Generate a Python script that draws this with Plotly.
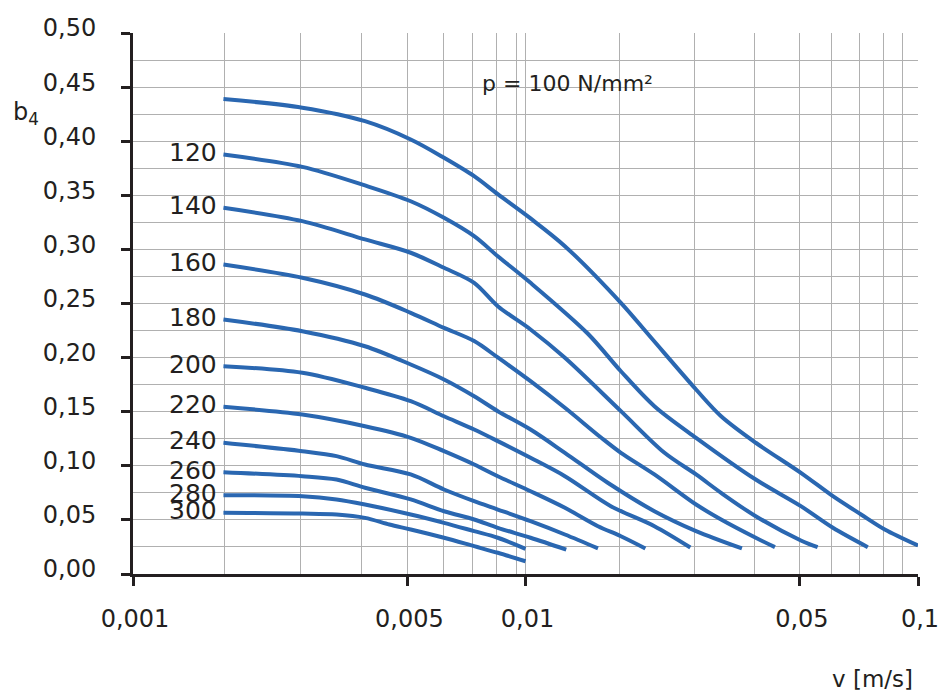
import math
import plotly.graph_objects as go

# ---------------- data ----------------
pressures = [100, 120, 140, 160, 180, 200, 220, 240, 260, 280, 300]

v_100 = [0.0017, 0.0027, 0.0039, 0.0051, 0.0062, 0.0074, 0.0085, 0.0103, 0.0126, 0.0175, 0.0209,
         0.0272, 0.0315, 0.0386, 0.0503, 0.0607, 0.0716, 0.0823, 0.1]
b_100 = [0.439, 0.431, 0.4185, 0.4016, 0.3847, 0.3677, 0.3510, 0.3286, 0.303, 0.2506, 0.2183,
         0.1705, 0.1458, 0.1213, 0.0935, 0.0719, 0.055, 0.0411, 0.0263]

v_120 = [0.0017, 0.0027, 0.0039, 0.0051, 0.0062, 0.0074, 0.0085, 0.0103, 0.0144, 0.0175, 0.0213,
         0.0272, 0.0386, 0.0503, 0.0607, 0.0745]
b_120 = [0.3877, 0.3763, 0.3591, 0.3445, 0.3292, 0.3122, 0.2937, 0.2691, 0.2223, 0.1874, 0.1551,
         0.1259, 0.0873, 0.0627, 0.0427, 0.0248]

v_140 = [0.0017, 0.0027, 0.0039, 0.0051, 0.0062, 0.0074, 0.0085, 0.0103, 0.0126, 0.0175, 0.0226,
         0.0272, 0.0315, 0.0386, 0.0503, 0.0555]
b_140 = [0.3384, 0.3261, 0.3092, 0.2969, 0.2830, 0.2691, 0.2475, 0.2260, 0.1998, 0.1505, 0.1120,
         0.0920, 0.0750, 0.0534, 0.0310, 0.0248]

v_160 = [0.0017, 0.0027, 0.0039, 0.0051, 0.0062, 0.0074, 0.0085, 0.0103, 0.0126, 0.0156, 0.0175,
         0.0213, 0.0272, 0.0315, 0.0386, 0.0432]
b_160 = [0.2860, 0.2738, 0.2583, 0.2414, 0.2275, 0.2153, 0.2001, 0.1782, 0.1536, 0.1259, 0.1120,
         0.0920, 0.0642, 0.0504, 0.0335, 0.0248]

v_180 = [0.0017, 0.0027, 0.0039, 0.0051, 0.0062, 0.0074, 0.0085, 0.0103, 0.0126, 0.0162, 0.0213,
         0.0272, 0.0356]
b_180 = [0.2352, 0.2244, 0.2105, 0.1936, 0.1798, 0.1643, 0.1505, 0.1335, 0.1120, 0.0843, 0.0580,
         0.0396, 0.0236]

v_200 = [0.0017, 0.0027, 0.0039, 0.0051, 0.0062, 0.0074, 0.0085, 0.0103, 0.0126, 0.0165, 0.0213,
         0.0263]
b_200 = [0.1921, 0.1860, 0.1721, 0.1597, 0.1458, 0.1335, 0.1228, 0.1074, 0.0904, 0.0627, 0.0442,
         0.0245]

v_220 = [0.0017, 0.0027, 0.0039, 0.0051, 0.0062, 0.0074, 0.0085, 0.0103, 0.0126, 0.0153, 0.0175,
         0.0202]
b_220 = [0.1545, 0.1474, 0.1366, 0.1259, 0.1135, 0.1012, 0.0904, 0.0765, 0.0612, 0.0442, 0.0349,
         0.0236]

v_240 = [0.0017, 0.0027, 0.0033, 0.0039, 0.0051, 0.0062, 0.0074, 0.0085, 0.0103, 0.0126, 0.0153]
b_240 = [0.1213, 0.1135, 0.1089, 0.1012, 0.0920, 0.0781, 0.0673, 0.0596, 0.0488, 0.0365, 0.0236]

v_260 = [0.0017, 0.0027, 0.0033, 0.0039, 0.0051, 0.0062, 0.0074, 0.0085, 0.0103, 0.0127]
b_260 = [0.0941, 0.0904, 0.0873, 0.0797, 0.0689, 0.0580, 0.0504, 0.0427, 0.0335, 0.0226]

v_280 = [0.0017, 0.0027, 0.0033, 0.0039, 0.0051, 0.0062, 0.0074, 0.0085, 0.0100]
b_280 = [0.0728, 0.0719, 0.0689, 0.0642, 0.0550, 0.0473, 0.0396, 0.0335, 0.0233]

v_300 = [0.0017, 0.0027, 0.0033, 0.0039, 0.0045, 0.0051, 0.0062, 0.0074, 0.0085, 0.0100]
b_300 = [0.0566, 0.0559, 0.0550, 0.0519, 0.0457, 0.0411, 0.0335, 0.0257, 0.0196, 0.0118]

x_tick_vals = [0.001, 0.005, 0.01, 0.05, 0.1]
x_tick_text = ["0,001", "0,005", "0,01", "0,05", "0,1"]

# ---------------- styling ----------------
FONT = "DejaVu Sans"
DARK = "#231f20"
BLUE = "#2a67b1"
GRID = "#b0b0b0"
# positions (log10 v) of the unlabeled vertical grid lines as drawn in the reference
GRID_LOG_POS = [-2.768, -2.574, -2.417, -2.209, -2.136, -2.073, -2.024,
                -1.760, -1.569, -1.416, -1.220, -1.148, -1.087, -1.039]

curves = [
    (100, v_100, b_100), (120, v_120, b_120), (140, v_140, b_140), (160, v_160, b_160),
    (180, v_180, b_180), (200, v_200, b_200), (220, v_220, b_220), (240, v_240, b_240),
    (260, v_260, b_260), (280, v_280, b_280), (300, v_300, b_300),
]

fig = go.Figure()
for p, v, b in curves:
    fig.add_trace(go.Scatter(
        x=v, y=b, mode="lines", name=str(p),
        line=dict(color=BLUE, width=4, shape="spline", smoothing=0.9),
        showlegend=False, hoverinfo="skip",
    ))
    if p != pressures[0]:
        fig.add_annotation(
            x=math.log10(v[0]), y=b[0], xref="x", yref="y", text=str(p),
            showarrow=False, xanchor="right", yanchor="middle", xshift=-4, yshift=2,
            font=dict(family=FONT, size=25, color=DARK),
        )

fig.add_annotation(x=0.5535, y=0.906, xref="paper", yref="paper",
                   text=f"p = {pressures[0]} N/mm²", showarrow=False,
                   xanchor="center", yanchor="middle",
                   font=dict(family=FONT, size=22, color=DARK))
fig.add_annotation(x=-0.156, y=0.852, xref="paper", yref="paper",
                   text="b<sub>4</sub>", showarrow=False, xanchor="left", yanchor="middle",
                   font=dict(family=FONT, size=24, color=DARK))
fig.add_annotation(x=0.9415, y=-0.194, xref="paper", yref="paper",
                   text="v [m/s]", showarrow=False, xanchor="center", yanchor="middle",
                   font=dict(family=FONT, size=23, color=DARK))

fig.update_layout(
    width=940, height=695,
    margin=dict(l=133, r=22, t=33, b=121, autoexpand=False),
    paper_bgcolor="white", plot_bgcolor="white",
    separators=", ",
    font=dict(family=FONT, color=DARK),
    xaxis=dict(
        type="log", range=[-3, -1], automargin=False,
        tickmode="array", tickvals=x_tick_vals, ticktext=x_tick_text,
        ticks="outside", ticklen=9, tickwidth=2.5, tickcolor=DARK,
        showline=True, linewidth=3, linecolor=DARK,
        showgrid=True, gridcolor=GRID, gridwidth=1,
        minor=dict(tickmode="array", tickvals=[10 ** g for g in GRID_LOG_POS],
                   showgrid=True, gridcolor=GRID, gridwidth=1, ticks=""),
        tickfont=dict(family=FONT, size=24, color=DARK),
        ticklabelstandoff=12, ticklabelshift=2, ticklabeloverflow="allow",
        zeroline=False, fixedrange=True,
    ),
    yaxis=dict(
        range=[0, 0.5], automargin=False,
        tickmode="linear", tick0=0, dtick=0.05, tickformat=".2f",
        ticks="outside", ticklen=9, tickwidth=2.5, tickcolor=DARK,
        showline=True, linewidth=3, linecolor=DARK,
        showgrid=True, gridcolor=GRID, gridwidth=1,
        minor=dict(dtick=0.025, tick0=0, showgrid=True, gridcolor=GRID, gridwidth=1, ticks=""),
        tickfont=dict(family=FONT, size=24, color=DARK),
        ticklabelstandoff=20, ticklabelshift=-5, ticklabeloverflow="allow",
        zeroline=False, fixedrange=True,
    ),
)

fig.write_html("out.html")
